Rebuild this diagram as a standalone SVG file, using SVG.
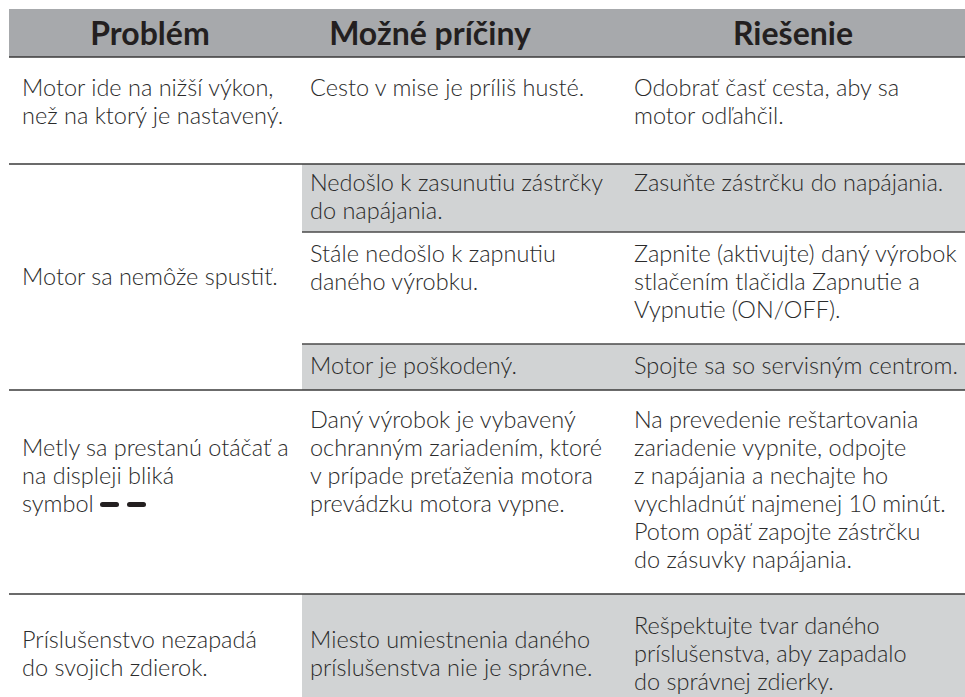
<svg xmlns="http://www.w3.org/2000/svg" width="965" height="697" viewBox="0 0 965 697">
<style>
.hd{fill:#a7a9ac}
.g{fill:#d1d3d4}
.rule{stroke:#3a3a3a;stroke-width:1.6}
.sub{stroke:#4a4a4a;stroke-width:1.6}
.h{font-family:"Lato","Liberation Sans",sans-serif;font-weight:700;font-size:32px;fill:#231f20;text-anchor:middle}
.t{font-family:"Lato","Liberation Sans",sans-serif;font-weight:300;font-size:23.5px;fill:#2b2b2b}
.sym{fill:#231f20}
</style>
<rect width="965" height="697" fill="#ffffff"/>
<g id="fills">
<rect class="hd" x="9" y="9" width="956" height="48"/>
<rect class="g" x="302" y="164" width="663" height="68"/>
<rect class="g" x="302" y="344" width="663" height="46"/>
<rect class="g" x="302" y="594" width="663" height="103"/>
</g>
<g id="rules">
<line class="rule" x1="9" y1="57" x2="965" y2="57"/>
<line class="rule" x1="9" y1="164" x2="965" y2="164"/>
<line class="sub" x1="302" y1="232" x2="965" y2="232"/>
<line class="sub" x1="302" y1="344" x2="965" y2="344"/>
<line class="rule" x1="9" y1="390" x2="965" y2="390"/>
<line class="rule" x1="9" y1="594" x2="965" y2="594"/>
</g>
<g id="header">
<text class="h" x="150" y="45">Problém</text>
<text class="h" x="430" y="45">Možné príčiny</text>
<text class="h" x="793" y="45">Riešenie</text>
</g>
<g id="row1">
<text class="t" x="22" y="96">Motor ide na nižší výkon,</text>
<text class="t" x="22" y="124">než na ktorý je nastavený.</text>
<text class="t" x="310" y="96">Cesto v mise je príliš husté.</text>
<text class="t" x="634" y="96">Odobrať časť cesta, aby sa</text>
<text class="t" x="634" y="124">motor odľahčil.</text>
</g>
<g id="row2">
<text class="t" x="22" y="285">Motor sa nemôže spustiť.</text>
<text class="t" x="310" y="191">Nedošlo k zasunutiu zástrčky</text>
<text class="t" x="310" y="219">do napájania.</text>
<text class="t" x="634" y="191">Zasuňte zástrčku do napájania.</text>
<text class="t" x="310" y="262">Stále nedošlo k zapnutiu</text>
<text class="t" x="310" y="290">daného výrobku.</text>
<text class="t" x="634" y="262">Zapnite (aktivujte) daný výrobok</text>
<text class="t" x="634" y="290">stlačením tlačidla Zapnutie a</text>
<text class="t" x="634" y="318">Vypnutie (ON/OFF).</text>
<text class="t" x="310" y="374">Motor je poškodený.</text>
<text class="t" x="634" y="374">Spojte sa so servisným centrom.</text>
</g>
<g id="row3">
<text class="t" x="22" y="456">Metly sa prestanú otáčať a</text>
<text class="t" x="22" y="484">na displeji bliká</text>
<text class="t" x="22" y="512">symbol</text>
<rect class="sym" x="100" y="502" width="19" height="5" rx="2.5"/>
<rect class="sym" x="127" y="502" width="19" height="5" rx="2.5"/>
<text class="t" x="310" y="428">Daný výrobok je vybavený</text>
<text class="t" x="310" y="456">ochranným zariadením, ktoré</text>
<text class="t" x="310" y="484">v prípade preťaženia motora</text>
<text class="t" x="310" y="512">prevádzku motora vypne.</text>
<text class="t" x="634" y="428">Na prevedenie reštartovania</text>
<text class="t" x="634" y="456">zariadenie vypnite, odpojte</text>
<text class="t" x="634" y="484">z napájania a nechajte ho</text>
<text class="t" x="634" y="512">vychladnúť najmenej 10 minút.</text>
<text class="t" x="634" y="540">Potom opäť zapojte zástrčku</text>
<text class="t" x="634" y="568">do zásuvky napájania.</text>
</g>
<g id="row4">
<text class="t" x="22" y="648">Príslušenstvo nezapadá</text>
<text class="t" x="22" y="676">do svojich zdierok.</text>
<text class="t" x="310" y="648">Miesto umiestnenia daného</text>
<text class="t" x="310" y="676">príslušenstva nie je správne.</text>
<text class="t" x="634" y="634">Rešpektujte tvar daného</text>
<text class="t" x="634" y="662">príslušenstva, aby zapadalo</text>
<text class="t" x="634" y="690">do správnej zdierky.</text>
</g>
</svg>
